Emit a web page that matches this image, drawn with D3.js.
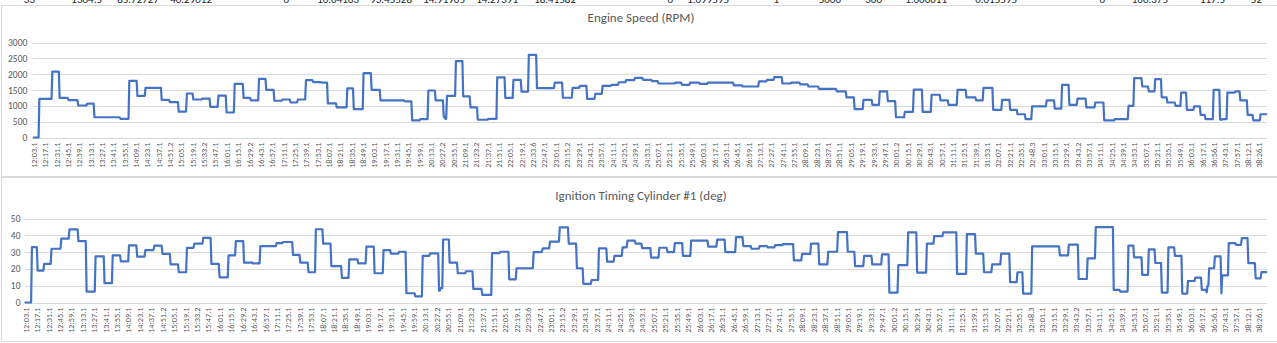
<!DOCTYPE html>
<html>
<head>
<meta charset="utf-8">
<script src="https://cdn.jsdelivr.net/npm/d3@7"></script>
<style>
  html, body { margin: 0; padding: 0; background: #ffffff; }
  svg { display: block; }
  text { font-family: Carlito, Calibri, Lato, "Open Sans", sans-serif; }
</style>
</head>
<body>
<svg id="sheet" width="1277" height="343"></svg>
<script>
// ---- logged data -------------------------------------------------------
// One log sample per category; a time label is shown every 14th sample.
const sampleCount = 1522;
const samplesPerLabel = 14;

const timeLabels = [
  "12:03.1","12:17.1","12:31.1","12:45.1","12:59.1","13:13.1","13:27.1","13:41.1","13:55.1","14:09.1",
  "14:23.1","14:37.1","14:51.2","15:05.1","15:19.1","15:33.2","15:47.1","16:01.1","16:15.1","16:29.2",
  "16:43.1","16:57.1","17:11.1","17:25.1","17:39.1","17:53.1","18:07.1","18:21.1","18:35.1","18:49.1",
  "19:03.1","19:17.1","19:31.1","19:45.1","19:59.1","20:13.1","20:27.2","20:55.1","21:09.1","21:23.2",
  "21:37.1","21:51.1","22:05.1","22:19.1","22:33.6","22:47.1","23:01.1","23:15.2","23:29.1","23:43.1",
  "23:57.1","24:11.1","24:25.1","24:39.1","24:53.1","25:07.1","25:21.1","25:35.1","25:49.1","26:03.1",
  "26:17.1","26:31.1","26:45.1","26:59.1","27:13.1","27:27.1","27:41.1","27:55.1","28:09.1","28:23.1",
  "28:37.1","28:51.1","29:05.1","29:19.1","29:33.1","29:47.1","30:01.2","30:15.1","30:29.1","30:43.1",
  "30:57.1","31:11.1","31:25.1","31:39.1","31:53.1","32:07.1","32:21.1","32:35.1","32:48.3","33:01.1",
  "33:15.1","33:29.1","33:43.2","33:57.1","34:11.1","34:25.1","34:39.1","34:53.1","35:07.1","35:21.1",
  "35:35.1","35:49.1","36:03.1","36:17.1","36:56.1","37:43.1","37:57.1","38:12.1","38:26.1"
];

// Engine speed: sample index where a reading starts, and the held reading (RPM)
const rpmStart = [
  0,7,23,32,43,55,66,75,107,118,128,138,158,168,179,189,197,208,218,228,
  238,248,259,268,278,287,297,307,317,326,336,345,355,363,374,387,395,407,417,428,
  458,467,477,487,496,506,508,510,521,530,539,548,561,572,582,592,602,611,621,643,
  653,665,674,683,693,702,713,722,731,742,752,763,771,792,800,810,822,832,864,875,
  895,905,914,924,935,946,956,969,991,1003,1013,1024,1035,1044,1054,1064,1075,1086,1097,1108,
  1119,1129,1140,1151,1163,1172,1184,1195,1205,1214,1224,1232,1250,1260,1269,1278,1288,1299,1310,1321,
  1334,1351,1358,1368,1376,1384,1392,1399,1409,1416,1423,1432,1440,1446,1456,1464,1467,1473,1483,1489,
  1498,1505,1514
];
const rpmValue = [
  0,1220,2080,1250,1180,1010,1070,640,590,1790,1315,1570,1190,1115,820,1390,1200,1230,970,1325,
  790,1695,1250,1170,1850,1505,1160,1200,1105,1200,1810,1750,1735,1075,950,1550,895,2030,1505,1170,
  1140,540,580,1485,1170,650,590,1315,2410,1300,950,560,590,1900,1250,1820,1450,2610,1560,1735,
  1255,1570,1630,1220,1380,1630,1665,1745,1810,1885,1820,1780,1705,1735,1665,1735,1695,1735,1645,1610,
  1770,1820,1905,1705,1735,1675,1610,1535,1455,1265,895,1190,1030,1455,1150,640,810,1515,810,1350,
  1170,1030,1505,1265,1170,1570,875,1190,875,735,580,980,1170,915,1665,1030,1230,950,1105,540,
  580,1000,1875,1610,1455,1845,1265,1105,1000,1420,875,980,715,580,1505,560,580,1420,1455,1170,
  715,540,735
];

// Ignition timing, cylinder #1: sample index where a reading starts, and the held reading (deg)
const ignStart = [
  0,8,15,23,32,44,54,65,75,86,97,107,117,127,137,147,158,168,178,188,
  198,207,218,228,238,249,258,268,279,288,308,316,328,337,347,356,365,375,388,397,
  408,418,428,439,448,458,467,478,487,496,507,509,512,520,530,540,549,560,572,582,
  593,602,623,634,643,655,666,676,684,694,703,713,722,732,738,748,756,767,777,787,
  796,806,816,837,848,858,871,880,890,900,910,919,929,942,952,963,973,984,996,1008,
  1017,1028,1038,1050,1059,1070,1082,1093,1105,1114,1125,1142,1154,1165,1175,1185,1196,1207,1216,1223,
  1234,1268,1279,1291,1302,1312,1334,1342,1352,1359,1369,1377,1385,1393,1401,1409,1418,1425,1434,1442,
  1448,1449,1451,1458,1466,1467,1475,1484,1491,1499,1508,1515
];
const ignValue = [
  0,33,19,23,32,38,43.5,36.5,6.5,27.5,11.5,28,24.5,34,27.3,31.2,33.8,29,22.7,18,
  32.5,35,38.5,23,15,28,36.5,23.7,23.3,33.5,35.4,36,28.3,23.7,18,43.6,35,21.7,14.6,25.7,
  23.3,33.2,17.4,31.2,29.1,30.2,5.5,3.6,27.7,29.2,7,8.5,37.5,23.7,17.4,18.6,8.1,4.5,29.4,30.2,
  13.8,20.4,30,32.2,36.2,44.7,35,20.4,11.1,13.4,32.2,24.3,27.7,32.8,36.8,35,32.4,26.7,32.6,30,
  35.4,27.7,36.8,33.2,37.4,30,38.9,33.6,32,33.6,32.8,34.2,34.8,25.1,28.9,35,22.7,30.2,41.9,30.2,
  21.7,27.7,22.7,28.7,5.9,22.3,41.7,17.8,35,39.5,41.7,17,40.7,29.1,18,22.7,29.1,12.1,18,5.3,
  33.4,28.1,34.4,14,26.3,44.9,7.5,6.5,33.8,26.9,16.4,31.6,23.5,5.9,32.8,27.7,5.3,12.8,14.8,7.5,
  6,10,20.4,27.5,5.4,16.2,35.3,34.3,38.3,23.4,14.4,18.1
];

const rpmTicks = [0, 500, 1000, 1500, 2000, 2500, 3000];
const ignTicks = [0, 10, 20, 30, 40, 50];

// Worksheet row peeking out above the charts
const sheetRowText = ["33","1304.5","85.72727","40.29012","0","10.04163","93.45528","14.91905","14.27391","18.41582",
  "0","1.099595","1","5000","300","1.000011","0.015595","0","100.375","117.5","52"];
const sheetColumnRight = [35,102,159,212,289,359,412,465,518,576,673,729,779,841,882,947,1017,1105,1168,1225,1262];

// ---- drawing ------------------------------------------------------------
const svg = d3.select("#sheet");
const gridColor = "#d9d9d9";
const labelColor = "#595959";
const lineColor = "#4472c4";

// spreadsheet cells behind the charts
svg.append("g")
  .selectAll("text")
  .data(sheetRowText)
  .join("text")
  .attr("x", (d, i) => sheetColumnRight[i])
  .attr("y", 3.2)
  .attr("text-anchor", "end")
  .attr("font-size", 11)
  .attr("fill", "#222")
  .text(d => d);

function stepPoints(starts, values) {
  const pts = [];
  starts.forEach((s, k) => {
    const end = k + 1 < starts.length ? starts[k + 1] - 1 : sampleCount - 1;
    pts.push([s, values[k]]);
    if (end > s) pts.push([end, values[k]]);
  });
  return pts;
}

function drawChart(cfg) {
  const g = svg.append("g");

  // chart frame
  g.append("rect")
    .attr("x", cfg.frame[0]).attr("y", cfg.frame[1])
    .attr("width", cfg.frame[2]).attr("height", cfg.frame[3])
    .attr("fill", "#fff").attr("stroke", gridColor).attr("stroke-width", 1);

  // title
  g.append("text")
    .attr("x", 641).attr("y", cfg.titleY)
    .attr("text-anchor", "middle")
    .attr("font-size", 13)
    .attr("fill", labelColor)
    .text(cfg.title);

  const x = d3.scaleLinear().domain([0, sampleCount]).range([cfg.left, cfg.right]);
  const y = d3.scaleLinear().domain(cfg.domain).range([cfg.bottom, cfg.top]);

  // value axis with gridlines
  const yAxis = g.append("g")
    .attr("transform", `translate(${cfg.left},0)`)
    .call(d3.axisLeft(y)
      .tickValues(cfg.ticks)
      .tickFormat(d3.format("d"))
      .tickSize(-(cfg.right - cfg.left))
      .tickPadding(cfg.yPad));
  yAxis.select(".domain").remove();
  yAxis.selectAll("line").attr("stroke", gridColor).attr("shape-rendering", "crispEdges");
  yAxis.selectAll("text").attr("fill", labelColor).attr("font-size", 9.5)
    .attr("font-family", "Carlito, Calibri, Lato, sans-serif");

  // category axis: rotated time labels
  const xAxis = g.append("g")
    .attr("transform", `translate(0,${cfg.bottom})`)
    .call(d3.axisBottom(x)
      .tickValues(timeLabels.map((d, k) => k * samplesPerLabel + 0.5))
      .tickFormat((d, k) => timeLabels[k])
      .tickSize(0));
  xAxis.select(".domain").remove();
  xAxis.selectAll("text")
    .attr("fill", labelColor)
    .attr("font-size", 8.3)
    .attr("font-family", "Carlito, Calibri, Lato, sans-serif")
    .attr("text-anchor", "end")
    .attr("transform", "rotate(-90)")
    .attr("x", -cfg.xPad)
    .attr("y", 0)
    .attr("dy", "0.33em");

  // series
  const line = d3.line().x(d => x(d[0] + 0.5)).y(d => y(d[1]));
  g.append("path")
    .datum(stepPoints(cfg.starts, cfg.values))
    .attr("fill", "none")
    .attr("stroke", lineColor)
    .attr("stroke-width", 2.2)
    .attr("stroke-linejoin", "round")
    .attr("stroke-linecap", "round")
    .attr("d", line);
}

drawChart({
  title: "Engine Speed (RPM)",
  frame: [1.5, 5.5, 1290, 171],
  titleY: 21.5,
  left: 33.3, right: 1266.7, top: 42.5, bottom: 137.5,
  domain: [0, 3000], ticks: rpmTicks, yPad: 6,
  xPad: 5,
  starts: rpmStart, values: rpmValue
});

drawChart({
  title: "Ignition Timing Cylinder #1 (deg)",
  frame: [1.5, 177.5, 1290, 164],
  titleY: 199.5,
  left: 25, right: 1266.7, top: 218.5, bottom: 302.5,
  domain: [0, 50], ticks: ignTicks, yPad: 4.5,
  xPad: 5,
  starts: ignStart, values: ignValue
});
</script>
</body>
</html>
